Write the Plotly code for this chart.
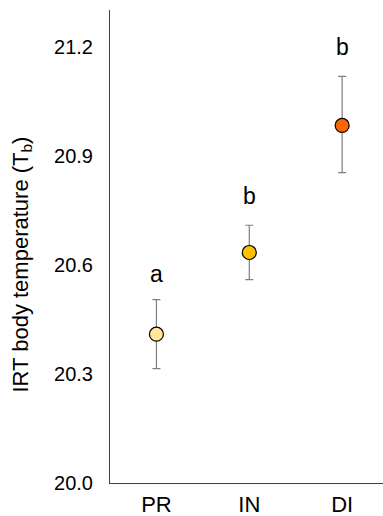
import plotly.graph_objects as go

categories = ["PR", "IN", "DI"]
means = [20.41, 20.635, 20.985]
err_plus = [0.095, 0.075, 0.135]
err_minus = [0.095, 0.075, 0.13]
letters = ["a", "b", "b"]
letter_y = [20.575, 20.79, 21.20]
colors = ["#FFE699", "#FFC000", "#FF6600"]
y_ticks = [20.0, 20.3, 20.6, 20.9, 21.2]
y_title = "IRT body temperature (T<sub>b</sub>)"

fig = go.Figure()
fig.add_trace(go.Scatter(
    x=[0, 1, 2], y=means, mode="markers",
    marker=dict(size=14, color=colors, line=dict(color="black", width=1.2)),
    error_y=dict(type="data", symmetric=False, array=err_plus, arrayminus=err_minus,
                 color="#7f7f7f", thickness=1.2, width=4),
    showlegend=False,
))
for i, (t, yy) in enumerate(zip(letters, letter_y)):
    fig.add_annotation(x=i, y=yy, text=t, showarrow=False,
                       font=dict(size=23, color="black", family="Liberation Sans"))

fig.add_annotation(xref="paper", yref="paper", x=-0.322, y=0.462, text=y_title,
                   textangle=-90, showarrow=False, xanchor="center", yanchor="middle",
                   font=dict(size=22, color="black", family="Liberation Sans"))

fig.update_layout(
    width=383, height=516,
    margin=dict(l=110, r=0, t=10, b=33),
    plot_bgcolor="white", paper_bgcolor="white",
    font=dict(family="Liberation Sans", color="black"),
    xaxis=dict(range=[-0.5, 2.44], tickmode="array", tickvals=[0, 1, 2], ticktext=categories,
               showline=True, linecolor="#404040", linewidth=1, showgrid=False, zeroline=False,
               ticks="", tickfont=dict(size=22), ticklabelstandoff=2),
    yaxis=dict(range=[20.0, 21.303], tickmode="array", tickvals=y_ticks,
               ticktext=[f"{v:.1f}" for v in y_ticks],
               showline=True, linecolor="#404040", linewidth=1, showgrid=False, zeroline=False,
               ticks="", ticklen=0, tickfont=dict(size=20), ticklabelstandoff=12),
)
fig.write_html("out.html")
